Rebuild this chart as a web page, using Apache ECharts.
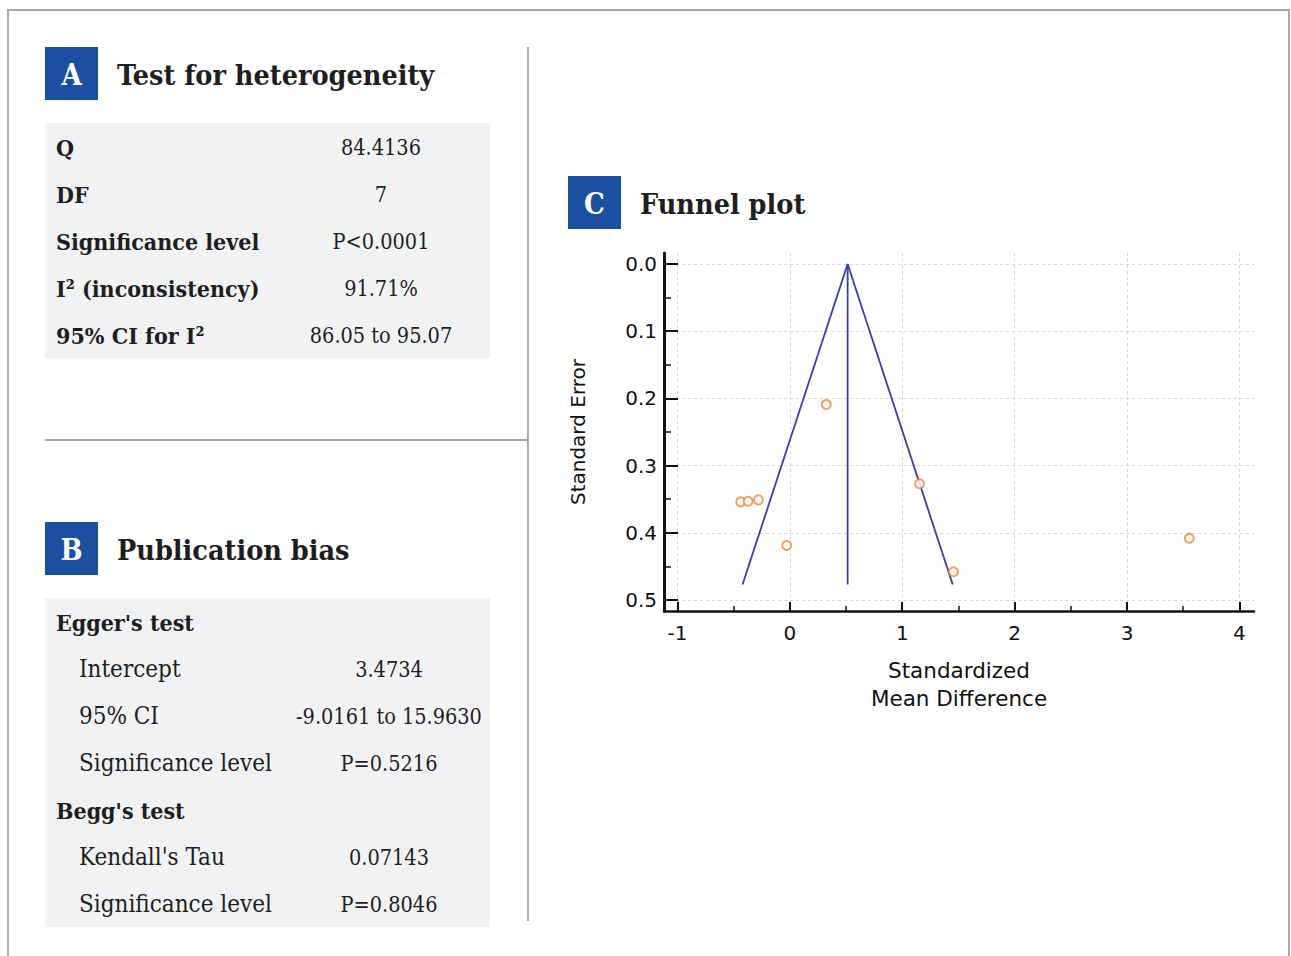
<!DOCTYPE html>
<html>
<head>
<meta charset="utf-8">
<script src="https://cdn.jsdelivr.net/npm/echarts@6/dist/echarts.min.js"></script>
<style>
html,body{margin:0;padding:0;background:#fff;}
#main{width:1291px;height:956px;}
</style>
</head>
<body>
<div id="main"></div>
<script>
// ---------- data ----------
const heteroLabels = ['Q', 'DF', 'Significance level', 'I\u00B2 (inconsistency)', '95% CI for I\u00B2'];
const heteroValues = ['84.4136', '7', 'P<0.0001', '91.71%', '86.05 to 95.07'];

const biasLabels = ["Egger's test", 'Intercept', '95% CI', 'Significance level', "Begg's test", "Kendall's Tau", 'Significance level'];
const biasValues = ['', '3.4734', '-9.0161 to 15.9630', 'P=0.5216', '', '0.07143', 'P=0.8046'];
const biasIsHeader = [true, false, false, false, true, false, false];

const studySMD = [0.324, 1.154, -0.437, -0.372, -0.280, -0.028, 3.554, 1.456];
const studySE  = [0.209, 0.327, 0.354, 0.353, 0.351, 0.419, 0.408, 0.458];

const funnelApex = [0.514, 0];
const funnelBottomLeft = [-0.421, 0.477];
const funnelBottomRight = [1.449, 0.477];
const pooledLine = [[0.514, 0], [0.514, 0.477]];

const xTicks = [-1, 0, 1, 2, 3, 4];
const xMinorTicks = [-0.5, 0.5, 1.5, 2.5, 3.5];
const yTicks = [0, 0.1, 0.2, 0.3, 0.4, 0.5];
const yMinorTicks = [0.05, 0.15, 0.25, 0.35, 0.45];

// ---------- styling ----------
const SERIF = "'DejaVu Serif Condensed', 'DejaVu Serif', serif";
const SANS = "'DejaVu Sans', sans-serif";
const BLUE = '#1b4f9f';
const INK = '#1e1e1e';
const PANEL = '#f1f2f4';

const graphics = [];
// outer frame
graphics.push({type:'rect', shape:{x:8, y:10, width:1281, height:980}, style:{fill:'none', stroke:'#a8a8a8', lineWidth:2}, silent:true});
// dividers
graphics.push({type:'line', shape:{x1:528, y1:47, x2:528, y2:921}, style:{stroke:'#a8a8a8', lineWidth:2}});
graphics.push({type:'line', shape:{x1:45, y1:440, x2:528, y2:440}, style:{stroke:'#a8a8a8', lineWidth:2}});

function header(letter, title, x, y) {
  graphics.push({type:'rect', shape:{x:x, y:y, width:53, height:53}, style:{fill:BLUE}});
  graphics.push({type:'text', style:{text:letter, x:x+26.5, y:y+28, align:'center', verticalAlign:'middle', font:'bold 29px ' + SERIF, fill:'#ffffff'}});
  graphics.push({type:'text', style:{text:title, x:x+72, y:y+28, align:'left', verticalAlign:'middle', font:'bold 28.5px ' + SERIF, fill:INK}});
}
header('A', 'Test for heterogeneity', 45, 47);
header('B', 'Publication bias', 45, 522);
header('C', 'Funnel plot', 568, 176);

// table A
graphics.push({type:'rect', shape:{x:45, y:123, width:445, height:235}, style:{fill:PANEL}});
heteroLabels.forEach(function (lab, i) {
  const cy = 147 + i * 47;
  graphics.push({type:'text', style:{text:lab, x:56, y:cy, align:'left', verticalAlign:'middle', font:'bold 23px ' + SERIF, fill:INK}});
  graphics.push({type:'text', style:{text:heteroValues[i], x:381, y:cy, align:'center', verticalAlign:'middle', font:'21.5px ' + SERIF, fill:INK}});
});

// table B
graphics.push({type:'rect', shape:{x:45, y:598, width:445, height:329}, style:{fill:PANEL}});
biasLabels.forEach(function (lab, i) {
  const cy = 622 + i * 47;
  const hdr = biasIsHeader[i];
  graphics.push({type:'text', style:{text:lab, x: hdr ? 56 : 79, y:cy, align:'left', verticalAlign:'middle', font:(hdr ? 'bold 23px ' : '24px ') + SERIF, fill:INK}});
  if (biasValues[i]) {
    graphics.push({type:'text', style:{text:biasValues[i], x:389, y:cy, align:'center', verticalAlign:'middle', font:'21.5px ' + SERIF, fill:INK}});
  }
});

const chart = echarts.init(document.getElementById('main'), null, {renderer:'svg', width:1291, height:956});

const gridLine = {show:true, lineStyle:{color:'#d6d6d6', width:1, type:[3,3]}};

chart.setOption({
  animation:false,
  backgroundColor:'#ffffff',
  grid:{left:664, top:253, width:590, height:358, containLabel:false},
  xAxis:[{
    type:'value', min:-1.12, max:4.13, position:'bottom',
    axisLine:{show:true, onZero:false, lineStyle:{color:'#111', width:2.5}},
    axisTick:{show:true, inside:true, length:9, customValues:xTicks, lineStyle:{color:'#111', width:2}},
    axisLabel:{customValues:xTicks, color:'#111', fontFamily:SANS, fontSize:20, margin:12},
    splitLine:gridLine,
    name:'Standardized\nMean Difference', nameLocation:'middle', nameGap:45,
    nameTextStyle:{color:'#111', fontFamily:SANS, fontSize:21.5, lineHeight:28}
  },{
    type:'value', min:-1.12, max:4.13, position:'bottom',
    axisLine:{show:false, onZero:false},
    axisTick:{show:true, inside:true, length:5, customValues:xMinorTicks, lineStyle:{color:'#111', width:1.5}},
    axisLabel:{show:false},
    splitLine:{show:false}
  }],
  yAxis:[{
    type:'value', min:-0.0164, max:0.5164, inverse:true, position:'left',
    axisLine:{show:true, onZero:false, lineStyle:{color:'#111', width:3}},
    axisTick:{show:true, inside:true, length:14, customValues:yTicks, lineStyle:{color:'#111', width:2}},
    axisLabel:{customValues:yTicks, color:'#111', fontFamily:SANS, fontSize:20, margin:7, formatter:function (v) { return v.toFixed(1); }},
    splitLine:gridLine,
    name:'Standard Error', nameLocation:'middle', nameGap:76,
    nameTextStyle:{color:'#111', fontFamily:SANS, fontSize:20}
  },{
    type:'value', min:-0.0164, max:0.5164, inverse:true, position:'left',
    axisLine:{show:false, onZero:false},
    axisTick:{show:true, inside:true, length:7, customValues:yMinorTicks, lineStyle:{color:'#111', width:1.5}},
    axisLabel:{show:false},
    splitLine:{show:false}
  }],
  series:[{
    type:'line', xAxisIndex:0, yAxisIndex:0, symbol:'none',
    data:[funnelBottomLeft, funnelApex, funnelBottomRight],
    lineStyle:{color:'#3b3f9e', width:1.8}, z:3
  },{
    type:'line', xAxisIndex:0, yAxisIndex:0, symbol:'none',
    data:pooledLine,
    lineStyle:{color:'#3b3f9e', width:1.8}, z:3
  },{
    type:'scatter', xAxisIndex:0, yAxisIndex:0,
    symbol:'emptyCircle', symbolSize:9,
    data:studySMD.map(function (x, i) { return [x, studySE[i]]; }),
    itemStyle:{color:'#f0883a', borderColor:'#f0883a', borderWidth:1.3}, z:4
  }],
  graphic:graphics
});
</script>
</body>
</html>
